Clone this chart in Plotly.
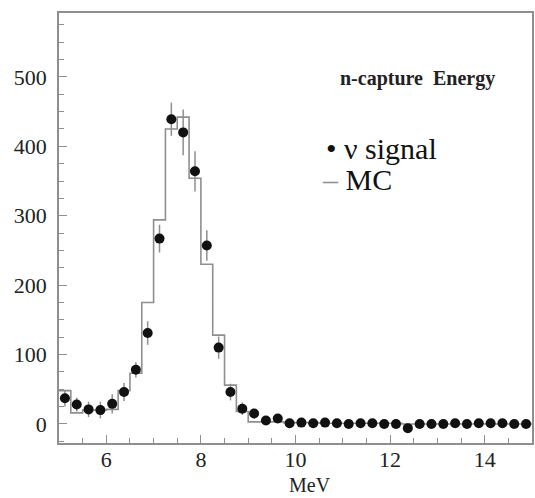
import numpy as np
import plotly.graph_objects as go

# Bin edges (MeV): 40 bins of 0.25 MeV from 5 to 15
bin_lo, bin_hi, bin_w = 5.0, 15.0, 0.25
edges = np.arange(bin_lo, bin_hi + bin_w / 2, bin_w)
centers = (edges[:-1] + edges[1:]) / 2

# nu signal (data points)
signal = [37, 28, 21, 20, 29, 46, 78, 131, 267, 439,
          420, 364, 257, 110, 46, 22, 15, 5, 8, 1,
          2, 1, 2, 1, 0, 1, 1, 0, 0, -6,
          0, 0, 0, 1, 0, 1, 1, 1, 0, 0]
signal_err = [12, 10, 11, 12, 14, 13, 11, 17, 20, 24,
              33, 29, 22, 16, 12, 9, 7, 5, 5, 4,
              3, 3, 3, 3, 3, 3, 3, 3, 3, 3,
              3, 3, 3, 3, 3, 3, 3, 3, 3, 3]

# Monte Carlo histogram
mc = [48, 16, 20, 20, 21, 48, 73, 175, 294, 425,
      442, 354, 230, 128, 56, 18, 3, 3, 3, 2,
      2, 2, 1, 1, 1, 1, 1, 1, 1, 0,
      0, 0, 0, 0, 0, 0, 0, 0, 0, 0]

title_text = "n-capture  Energy"
legend_signal = "ν signal"
legend_mc = "MC"
x_title = "MeV"

serif = "Liberation Serif, Times New Roman, DejaVu Serif, serif"
gray = "#8f8f8f"

fig = go.Figure()

fig.add_trace(go.Scatter(
    x=list(edges), y=list(mc) + [mc[-1]],
    mode="lines", line=dict(color=gray, width=1.6, shape="hv"),
    showlegend=False, hoverinfo="skip"))

fig.add_trace(go.Scatter(
    x=list(centers), y=signal, mode="markers",
    marker=dict(color="#111111", size=10, symbol="circle"),
    error_y=dict(type="data", array=signal_err, color=gray, thickness=1.5, width=0),
    showlegend=False))

tickfont = dict(family=serif, size=22, color="#222222")

fig.update_xaxes(
    range=[bin_lo, bin_hi], showgrid=False, zeroline=False,
    showline=True, mirror=True, linecolor=gray, linewidth=1.5,
    ticks="inside", ticklen=8, tickwidth=1.2, tickcolor=gray,
    tick0=0, dtick=2, tickfont=tickfont, ticklabelstandoff=-4,
    minor=dict(ticks="inside", ticklen=5, tickwidth=1.2, tickcolor=gray, dtick=0.5, tick0=0))

fig.update_yaxes(
    range=[-27.4, 592], showgrid=False, zeroline=False,
    showline=True, mirror=True, linecolor=gray, linewidth=1.5,
    ticks="inside", ticklen=8, tickwidth=1.2, tickcolor=gray,
    tick0=0, dtick=100, tickfont=tickfont, ticklabelstandoff=6,
    minor=dict(ticks="inside", ticklen=5, tickwidth=1.2, tickcolor=gray, dtick=25, tick0=0))

fig.add_annotation(x=12.58, y=497, xref="x", yref="y", text="<b>" + title_text + "</b>",
                   showarrow=False, font=dict(family=serif, size=20, color="#222222"))

fig.add_annotation(x=10.6, y=397, xref="x", yref="y", text="• " + legend_signal,
                   showarrow=False, xanchor="left",
                   font=dict(family=serif, size=30, color="#111111"))
fig.add_annotation(x=10.52, y=352, xref="x", yref="y",
                   text="<span style='color:%s'>–</span> " % gray + legend_mc,
                   showarrow=False, xanchor="left",
                   font=dict(family=serif, size=30, color="#111111"))

fig.add_annotation(x=0.53, y=-0.098, xref="paper", yref="paper", text=x_title,
                   showarrow=False, yanchor="middle",
                   font=dict(family=serif, size=20, color="#222222"))

fig.update_layout(
    width=535, height=498,
    margin=dict(l=59, r=1, t=13, b=55),
    font=dict(family=serif),
    paper_bgcolor="white", plot_bgcolor="white",
    showlegend=False)

fig.write_html("out.html")
